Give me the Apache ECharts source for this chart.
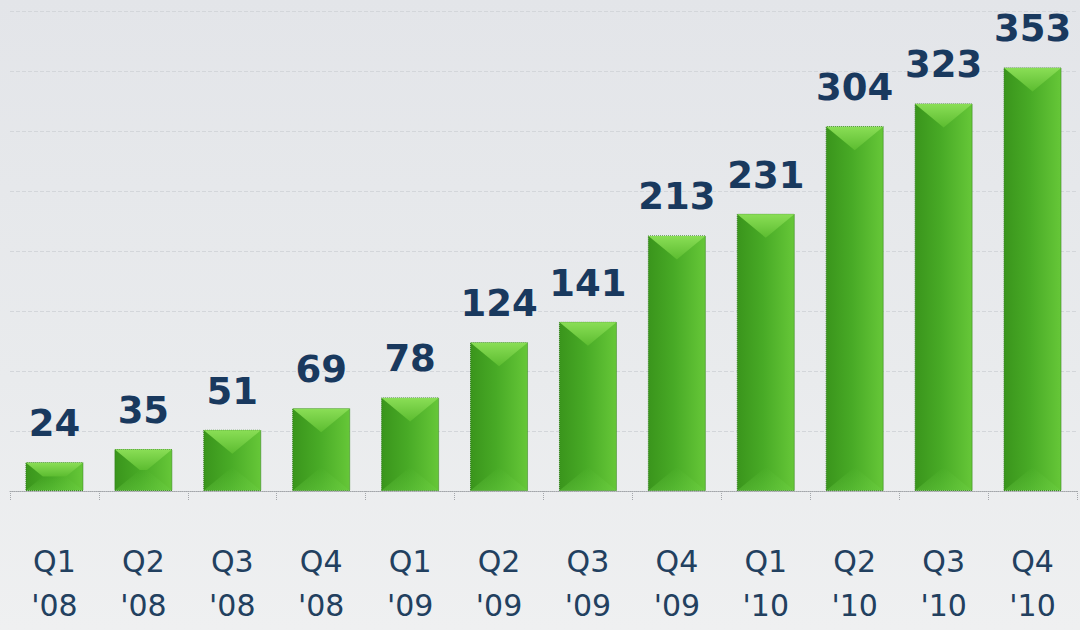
<!DOCTYPE html>
<html>
<head>
<meta charset="utf-8">
<script src="https://cdn.jsdelivr.net/npm/echarts@6/dist/echarts.min.js"></script>
<style>
html,body{margin:0;padding:0;}
#c{width:1080px;height:630px;}
</style>
</head>
<body>
<div id="c"></div>
<script>
const quarters = ["Q1","Q2","Q3","Q4","Q1","Q2","Q3","Q4","Q1","Q2","Q3","Q4"];
const years = ["'08","'08","'08","'08","'09","'09","'09","'09","'10","'10","'10","'10"];
const values = [24, 35, 51, 69, 78, 124, 141, 213, 231, 304, 323, 353];
const categories = quarters.map((q, i) => q + "\n" + years[i]);

const chart = echarts.init(document.getElementById('c'), null, {renderer: 'svg'});
const BAR_W = 58;

chart.setOption({
  backgroundColor: {
    type: 'linear', x: 0, y: 0, x2: 0, y2: 1,
    colorStops: [
      {offset: 0, color: '#e3e5e9'},
      {offset: 0.6, color: '#e9ebed'},
      {offset: 1, color: '#eff0f1'}
    ]
  },
  animation: false,
  grid: {left: 10, right: 3, top: 11, bottom: 139, containLabel: false},
  xAxis: {
    type: 'category',
    data: categories,
    axisLine: {show: true, lineStyle: {color: '#a3a6aa', width: 1, type: 'dotted'}},
    axisTick: {show: true, alignWithLabel: false, length: 9, lineStyle: {color: '#a3a6aa', type: 'dotted'}},
    axisLabel: {
      margin: 48,
      fontSize: 30,
      lineHeight: 44,
      color: '#22405f',
      fontFamily: 'DejaVu Sans'
    }
  },
  yAxis: {
    type: 'value',
    min: 0, max: 400, interval: 50,
    axisLabel: {show: false},
    axisLine: {show: false},
    axisTick: {show: false},
    splitLine: {show: true, lineStyle: {color: '#d3d6da', width: 1, type: 'dashed'}}
  },
  series: [
    {
      type: 'bar',
      data: values,
      barWidth: BAR_W,
      itemStyle: {
        color: {
          type: 'linear', x: 0, y: 0, x2: 1, y2: 0,
          colorStops: [
            {offset: 0, color: '#3a951c'},
            {offset: 0.45, color: '#48aa26'},
            {offset: 1, color: '#66c738'}
          ]
        },
        borderColor: '#2f7d18',
        borderWidth: 1,
        borderType: 'dotted'
      },
      label: {
        show: true,
        position: 'top',
        distance: 20,
        fontSize: 37,
        fontWeight: 'bold',
        fontFamily: 'DejaVu Sans',
        color: '#19395e'
      },
      z: 2
    },
    {
      type: 'custom',
      data: values.map((v, i) => [i, v]),
      z: 3,
      silent: true,
      renderItem: function (params, api) {
        const idx = api.value(0), v = api.value(1);
        const top = api.coord([idx, v]);
        const base = api.coord([idx, 0]);
        const w = BAR_W;
        const x0 = top[0] - w / 2, x1 = top[0] + w / 2;
        const y0 = top[1], y1 = base[1];
        const h = y1 - y0;
        const dv = Math.min(24, h / 2);
        const dh = Math.min(w / 2, dv * (w / 2) / 24);
        return {
          type: 'group',
          children: [
            {
              type: 'polygon',
              shape: {points: [[x0 + 0.5, y0 + 0.5], [x1 - 0.5, y0 + 0.5], [x1 - dh, y0 + dv], [x0 + dh, y0 + dv]]},
              style: {
                fill: {
                  type: 'linear', x: 0, y: 0, x2: 0, y2: 1,
                  colorStops: [
                    {offset: 0, color: '#8ade56'},
                    {offset: 1, color: '#5cbc30'}
                  ]
                }
              }
            },
            {
              type: 'polygon',
              shape: {points: [[x0 + 0.5, y1 - 0.5], [x1 - 0.5, y1 - 0.5], [x1 - dh, y1 - dv], [x0 + dh, y1 - dv]]},
              style: {
                fill: {
                  type: 'linear', x: 0, y: 1, x2: 0, y2: 0,
                  colorStops: [
                    {offset: 0, color: 'rgba(110,210,70,0.35)'},
                    {offset: 1, color: 'rgba(110,210,70,0)'}
                  ]
                }
              }
            }
          ]
        };
      }
    }
  ]
});
</script>
</body>
</html>
